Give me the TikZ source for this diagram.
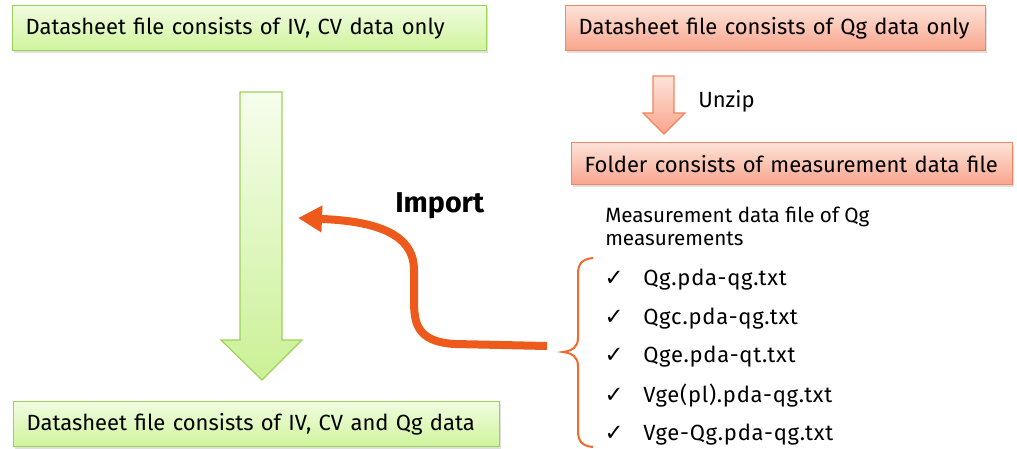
\documentclass[tikz,border=0pt]{standalone}
\usepackage{fontspec}
\setmainfont{Fira Sans}
\newfontfamily\djv{DejaVu Sans}
\usetikzlibrary{shadows,arrows.meta}
\definecolor{gfillA}{HTML}{F0FCE0}
\definecolor{gfillB}{HTML}{D0F49C}
\definecolor{gline}{HTML}{9CD25A}
\definecolor{rfillA}{HTML}{FDE3D9}
\definecolor{rfillB}{HTML}{F9A58D}
\definecolor{rline}{HTML}{F0855F}
\definecolor{orng}{HTML}{EE5A1C}
\definecolor{brc}{HTML}{F06A2E}
\tikzset{
  boxbase/.style={anchor=north west, inner sep=0pt, inner xsep=9.75pt, align=left,
    line width=0.9pt, font=\fontsize{16.5}{19}\selectfont,
    drop shadow={opacity=0.25, shadow xshift=1pt, shadow yshift=-1.5pt}},
  gbox/.style={boxbase, draw=gline, top color=gfillA, bottom color=gfillB},
  rbox/.style={boxbase, draw=rline, top color=rfillA, bottom color=rfillB},
  itemtxt/.style={anchor=base west, inner sep=0pt, font=\fontsize{16.5}{19}\selectfont\addfontfeatures{LetterSpace=3.4}},
  headtxt/.style={anchor=base west, inner sep=0pt, font=\fontsize{15.5}{18}\selectfont},
  chk/.style={anchor=base, inner sep=0pt, font=\djv\fontsize{17}{19}\selectfont},
}
\begin{document}
\begin{tikzpicture}[x=0.75pt,y=-0.75pt]
\useasboundingbox (0,0) rectangle (1017,449);
% boxes
\node[gbox, minimum height=33.75pt, text width=336pt] (b1) at (12,5) {Datasheet file consists of IV, CV data only};
\node[rbox, minimum height=33.75pt, text width=295.5pt] (b2) at (565,5) {Datasheet file consists of Qg data only};
\node[rbox, minimum height=31.5pt, text width=311.25pt] (b3) at (571,142) {Folder consists of measurement data file};
\node[gbox, minimum height=33.75pt, text width=345pt] (b4) at (13,401) {Datasheet file consists of IV, CV and Qg data};
% big green arrow
\draw[gline, line width=0.9pt, top color=gfillA!60!white, bottom color=gfillB!90!gline]
  (240,92) -- (282,92) -- (282,340) -- (302,340) -- (262,380) -- (221,340) -- (240,340) -- cycle;
% unzip arrow
\draw[rline, line width=0.9pt, top color=rfillA, bottom color=rfillB]
  (653,76) -- (674,76) -- (674,113) -- (685,113) -- (664,134) -- (643,113) -- (653,113) -- cycle;
\node[headtxt, font=\fontsize{16.5}{19}\selectfont] (unzip) at (698,108) {Unzip};
% import
\node[anchor=base west, inner sep=0pt, font=\bfseries\fontsize{21.5}{24}\selectfont] (imp) at (395,213) {Import};
% list
\node[headtxt] (m1) at (605,223) {Measurement data file of Qg};
\node[headtxt] (m2) at (605,245) {measurements};
\foreach \y/\t [count=\i] in {285.5/Qg.pda-qg.txt, 324.5/Qgc.pda-qg.txt, 362.5/Qge.pda-qt.txt, 402.5/Vge(pl).pda-qg.txt, 440.5/Vge-Qg.pda-qg.txt}{
  \node[chk] (c\i) at (614,\y) {✓};
  \node[itemtxt] (f\i) at (643,\y) {\t};
}
% brace
\draw[brc, line width=1.5pt] (593,258) .. controls (582,259) and (578,264) .. (578,274)
  -- (578,338) .. controls (578,347) and (572,351) .. (563,352)
  .. controls (572,353) and (578,357) .. (578,366)
  -- (578,431) .. controls (578,441) and (582,446) .. (593,447);
% import arrow
\coordinate (s) at (547,346);
\coordinate (t) at (298,218);
\draw[orng, line width=6pt, -{Triangle[length=18pt,width=19pt]}]
  (s) -- (455,344) .. controls (416,342) and (414,322) .. (414,300)
  -- (414,270) .. controls (414,232) and (372,221) .. (t);
\end{tikzpicture}
\end{document}
